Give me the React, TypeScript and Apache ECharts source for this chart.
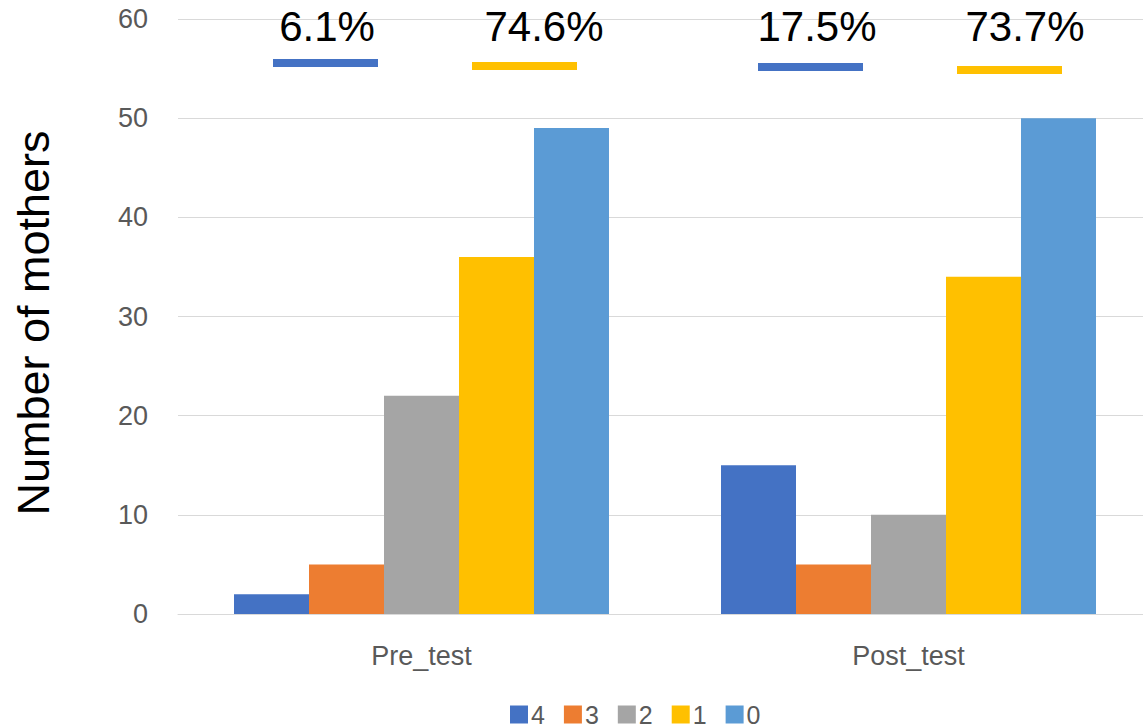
import React, { useEffect, useRef } from "react";
import * as echarts from "echarts";

const categories = ["Pre_test", "Post_test"];
const seriesNames = ["4", "3", "2", "1", "0"];
const score4 = [2, 15];
const score3 = [5, 5];
const score2 = [22, 10];
const score1 = [36, 34];
const score0 = [49, 50];
const colors = ["#4472C4", "#ED7D31", "#A5A5A5", "#FFC000", "#5B9BD5"];
const yTicks = { min: 0, max: 60, interval: 10 };
const pctLabels = ["6.1%", "74.6%", "17.5%", "73.7%"];

const FONT = "Liberation Sans";

export default function App() {
  const ref = useRef<HTMLDivElement>(null);
  useEffect(() => {
    const chart = echarts.init(ref.current!, null, { renderer: "svg" });
    const values = [score4, score3, score2, score1, score0];
    const textPos = [
      { x: 327, y: 26 },
      { x: 544, y: 26 },
      { x: 817, y: 26 },
      { x: 1025, y: 26 },
    ];
    const linePos = [
      { x: 273, y: 59, c: colors[0] },
      { x: 472, y: 62, c: colors[3] },
      { x: 758, y: 63, c: colors[0] },
      { x: 957, y: 66, c: colors[3] },
    ];
    const graphics: any[] = [];
    pctLabels.forEach((t, i) => {
      graphics.push({
        type: "text",
        x: textPos[i].x,
        y: textPos[i].y,
        style: {
          text: t,
          fontFamily: FONT,
          fontSize: 42,
          fill: "#000000",
          align: "center",
          verticalAlign: "middle",
        },
        z: 100,
      });
      graphics.push({
        type: "rect",
        shape: { x: linePos[i].x, y: linePos[i].y, width: 105, height: 8 },
        style: { fill: linePos[i].c },
        z: 100,
      });
    });
    graphics.push({
      type: "text",
      x: 33,
      y: 323,
      rotation: Math.PI / 2,
      style: {
        text: "Number of mothers",
        fontFamily: FONT,
        fontSize: 45,
        fill: "#000000",
        align: "center",
        verticalAlign: "middle",
      },
    });
    chart.setOption({
      animation: false,
      textStyle: { fontFamily: FONT },
      grid: { left: 178, right: 0, top: 19, bottom: 114, containLabel: false },
      legend: {
        data: seriesNames,
        left: 505,
        top: 697,
        itemWidth: 18,
        itemHeight: 18,
        itemGap: 19,
        icon: "rect",
        textStyle: {
          fontFamily: FONT,
          fontSize: 25,
          lineHeight: 20,
          color: "#595959",
          padding: [0, 0, 0, -2],
        },
      },
      xAxis: {
        type: "category",
        data: categories,
        axisLine: { lineStyle: { color: "#D9D9D9", width: 1 } },
        axisTick: { show: false },
        axisLabel: { fontFamily: FONT, fontSize: 27, color: "#595959", margin: 28 },
      },
      yAxis: {
        type: "value",
        min: yTicks.min,
        max: yTicks.max,
        interval: yTicks.interval,
        axisLine: { show: false },
        axisTick: { show: false },
        splitLine: { lineStyle: { color: "#D9D9D9", width: 1 } },
        axisLabel: { fontFamily: FONT, fontSize: 27, color: "#595959", margin: 30 },
      },
      series: seriesNames.map((n, i) => ({
        name: n,
        type: "bar",
        data: values[i],
        itemStyle: { color: colors[i] },
        barGap: "0%",
        barCategoryGap: "23%",
      })),
      graphic: graphics,
    });
    return () => chart.dispose();
  }, []);
  return (
    <div
      ref={ref}
      style={{ position: "fixed", left: 0, top: 0, width: 1152, height: 728, background: "#fff" }}
    />
  );
}
